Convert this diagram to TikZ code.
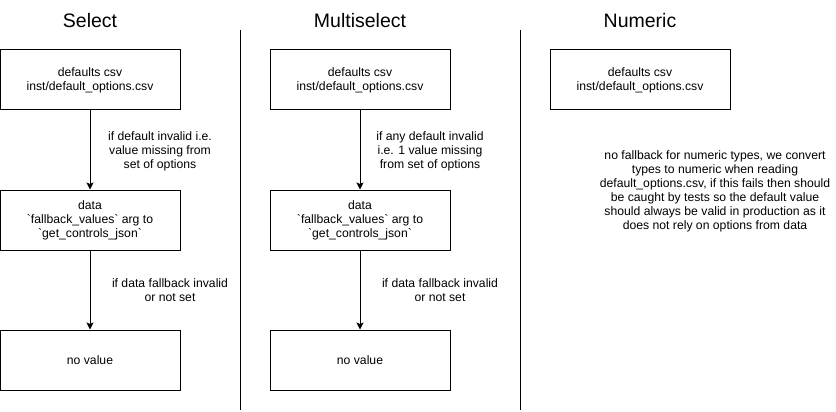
\documentclass[tikz,border=0pt]{standalone}
\usepackage{fontspec}
\setmainfont{Liberation Sans}
\usetikzlibrary{arrows.meta}
\newcommand{\txtfont}{\fontsize{12.2}{14}\selectfont}
\newcommand{\headfont}{\fontsize{19.5}{23}\selectfont}
\newcommand{\bq}{\textasciigrave{}}
\tikzset{
	box/.style={draw, line width=1pt, minimum width=180pt, minimum height=60pt, inner sep=0pt, align=center, font=\txtfont},
	note/.style={align=center, inner sep=0pt, font=\txtfont},
	head/.style={inner sep=0pt, font=\headfont},
	flow/.style={line width=1pt, -{Stealth[length=7pt, width=7pt, inset=1.5pt]}},
	divider/.style={line width=1pt}
}
\begin{document}
\begin{tikzpicture}[x=1pt, y=-1pt]
	\useasboundingbox (0,0) rectangle (836,412);
	\node[head](hsel) at (90,21) {Select};
	\node[head](hmul) at (360,21) {Multiselect};
	\node[head](hnum) at (640,21) {Numeric};
	\coordinate(d1t) at (240,30);
	\coordinate(d1b) at (240,410);
	\coordinate(d2t) at (520,30);
	\coordinate(d2b) at (520,410);
	\draw[divider] (d1t) -- (d1b);
	\draw[divider] (d2t) -- (d2b);
	% select
	\node[box](sdef) at (90,80) {defaults csv\\inst/default\_options.csv};
	\node[box](sdat) at (90,220) {data\\\bq fallback\_values\bq\ arg to\\\bq get\_controls\_json\bq};
	\node[box](snone) at (90,360) {no value};
	\node[note](slab1) at (160,151) {if default invalid i.e.\\value missing from\\set of options};
	\node[note](slab2) at (170,290) {if data fallback invalid\\or not set};
	\draw[flow] (sdef) -- (sdat);
	\draw[flow] (sdat) -- (snone);
	% multiselect
	\node[box](mdef) at (360,80) {defaults csv\\inst/default\_options.csv};
	\node[box](mdat) at (360,220) {data\\\bq fallback\_values\bq\ arg to\\\bq get\_controls\_json\bq};
	\node[box](mnone) at (360,360) {no value};
	\node[note](mlab1) at (430,151) {if any default invalid\\i.e. 1 value missing\\from set of options};
	\node[note](mlab2) at (440,290) {if data fallback invalid\\or not set};
	\draw[flow] (mdef) -- (mdat);
	\draw[flow] (mdat) -- (mnone);
	% numeric
	\node[box](ndef) at (640,80) {defaults csv\\inst/default\_options.csv};
	\node[note](nnote) at (715,191) {no fallback for numeric types, we convert\\types to numeric when reading\\default\_options.csv, if this fails then should\\be caught by tests so the default value\\should always be valid in production as it\\does not rely on options from data};
\end{tikzpicture}
\end{document}
